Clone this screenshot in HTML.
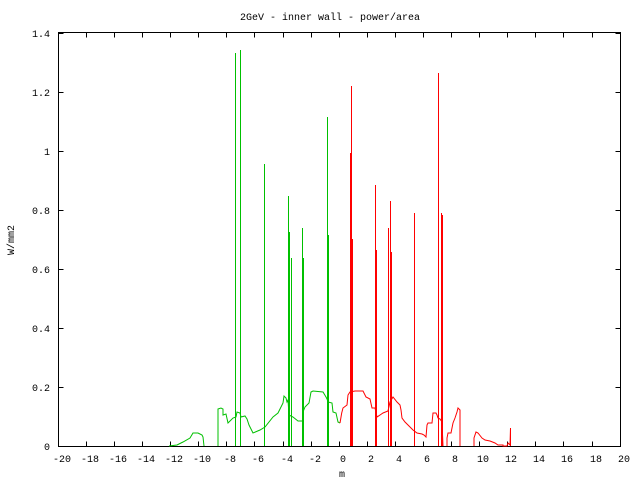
<!DOCTYPE html>
<html><head><meta charset="utf-8"><style>
html,body{margin:0;padding:0;background:#fff}
svg text{font-family:"Liberation Mono",monospace;font-size:10px;fill:#000}
</style></head><body>
<svg width="640" height="480" xmlns="http://www.w3.org/2000/svg">
<rect width="640" height="480" fill="#fff"/>
<g stroke="#000" stroke-width="1" fill="none" shape-rendering="crispEdges">
<rect x="58.5" y="32.5" width="562" height="414"/>
<path d="M58.5 446.5h5M58.5 387.5h5M58.5 328.5h5M58.5 269.5h5M58.5 210.5h5M58.5 151.5h5M58.5 92.5h5M58.5 33.5h5
M620.5 446.5h-5M620.5 387.5h-5M620.5 328.5h-5M620.5 269.5h-5M620.5 210.5h-5M620.5 151.5h-5M620.5 92.5h-5M620.5 33.5h-5"/>
<path d="M86.5 446.5v-5M114.5 446.5v-5M142.5 446.5v-5M170.5 446.5v-5M198.5 446.5v-5M226.5 446.5v-5M254.5 446.5v-5M283.5 446.5v-5M311.5 446.5v-5M339.5 446.5v-5M367.5 446.5v-5M395.5 446.5v-5M423.5 446.5v-5M451.5 446.5v-5M479.5 446.5v-5M507.5 446.5v-5M535.5 446.5v-5M563.5 446.5v-5M592.5 446.5v-5
M86.5 32.5v5M114.5 32.5v5M142.5 32.5v5M170.5 32.5v5M198.5 32.5v5M226.5 32.5v5M254.5 32.5v5M283.5 32.5v5M311.5 32.5v5M339.5 32.5v5M367.5 32.5v5M395.5 32.5v5M423.5 32.5v5M451.5 32.5v5M479.5 32.5v5M507.5 32.5v5M535.5 32.5v5M563.5 32.5v5M592.5 32.5v5"/>
</g>
<g text-anchor="end">
<text x="50" y="450">0</text><text x="50" y="391">0.2</text><text x="50" y="332">0.4</text><text x="50" y="273">0.6</text><text x="50" y="214">0.8</text><text x="50" y="155">1</text><text x="50" y="96">1.2</text><text x="50" y="37">1.4</text>
</g>
<g text-anchor="middle">
<g transform="translate(3.5,0)">
<text x="58.5" y="462">-20</text><text x="86.5" y="462">-18</text><text x="114.5" y="462">-16</text><text x="142.5" y="462">-14</text><text x="170.5" y="462">-12</text><text x="198.5" y="462">-10</text><text x="226.5" y="462">-8</text><text x="254.5" y="462">-6</text><text x="283.5" y="462">-4</text><text x="311.5" y="462">-2</text><text x="339.5" y="462">0</text><text x="367.5" y="462">2</text><text x="395.5" y="462">4</text><text x="423.5" y="462">6</text><text x="451.5" y="462">8</text><text x="479.5" y="462">10</text><text x="507.5" y="462">12</text><text x="535.5" y="462">14</text><text x="563.5" y="462">16</text><text x="592.5" y="462">18</text><text x="620.5" y="462">20</text>
</g>
<text x="342" y="477">m</text>
<text x="330" y="20">2GeV - inner wall - power/area</text>
<text x="0" y="0" transform="translate(14,240) rotate(-90)">W/mm2</text>
</g>
<g fill="none" stroke-width="1">
<polyline stroke="#00c000" points="169,446 177,445 183,442 190,438 193,433 198,433 202,435 203,437 204,446"/>
<polyline stroke="#00c000" points="218,446 218,409 221,408 223,409 223,415 226,414 228,423 233,418 236,417 237,412 240,413 241,417 245,416 247,419 249,425 253,433 260,430 265,427 273,417 278,413 283,403 284,396 286,398 287,402 288,400 289,415 293,417 298,421 303,421 303,412 305,407 307,405 309,403 311,392 313,391 323,392 326,397 327,399 328,402 332,403 333,412 336,413 338,422 340,423"/>
<path stroke="#00c000" d="M235.5 446V53M240.5 446V50M264.5 446V164M288.5 446V196M289.5 446V232M291.5 446V258M302.5 446V228M303.5 446V258M327.5 446V117M328.5 446V235"/>
<polyline stroke="#ff0000" points="340,423 341.7,413 343,408 347,405 348,395 350,392 355,391 363,391 366,397 370,399 372,408 375,408 377,417 383,413 388,411 390,402 393,397 397,402 400,405 401,410 402,418 405,422 410,427 413,430 417,433 422,434 424,435 426,437 427,425 428,423 432,423 433,413 436,413 437,415 438,418 440,419 442,422 443,446"/>
<polyline stroke="#ff0000" points="447,446 447,438 448,433 451,433 453,423 455,418 457,412 458,408 460,410 460,446"/>
<polyline stroke="#ff0000" points="474,446 474,438 476,432 478,433 482,438 485,440 490,441 495,443 498,445 503,445 503,446 507,446 508,443 510,445 510.5,428 510.5,446"/>
<path stroke="#ff0000" d="M350.5 446V153M351.5 446V86M352.5 446V239M375.5 446V185M376.5 446V250M388.5 446V228M390.5 446V201M391.5 446V252M414.5 446V213M438.5 446V73M441.5 446V213M442.5 446V215"/>
</g>
</svg>
</body></html>
